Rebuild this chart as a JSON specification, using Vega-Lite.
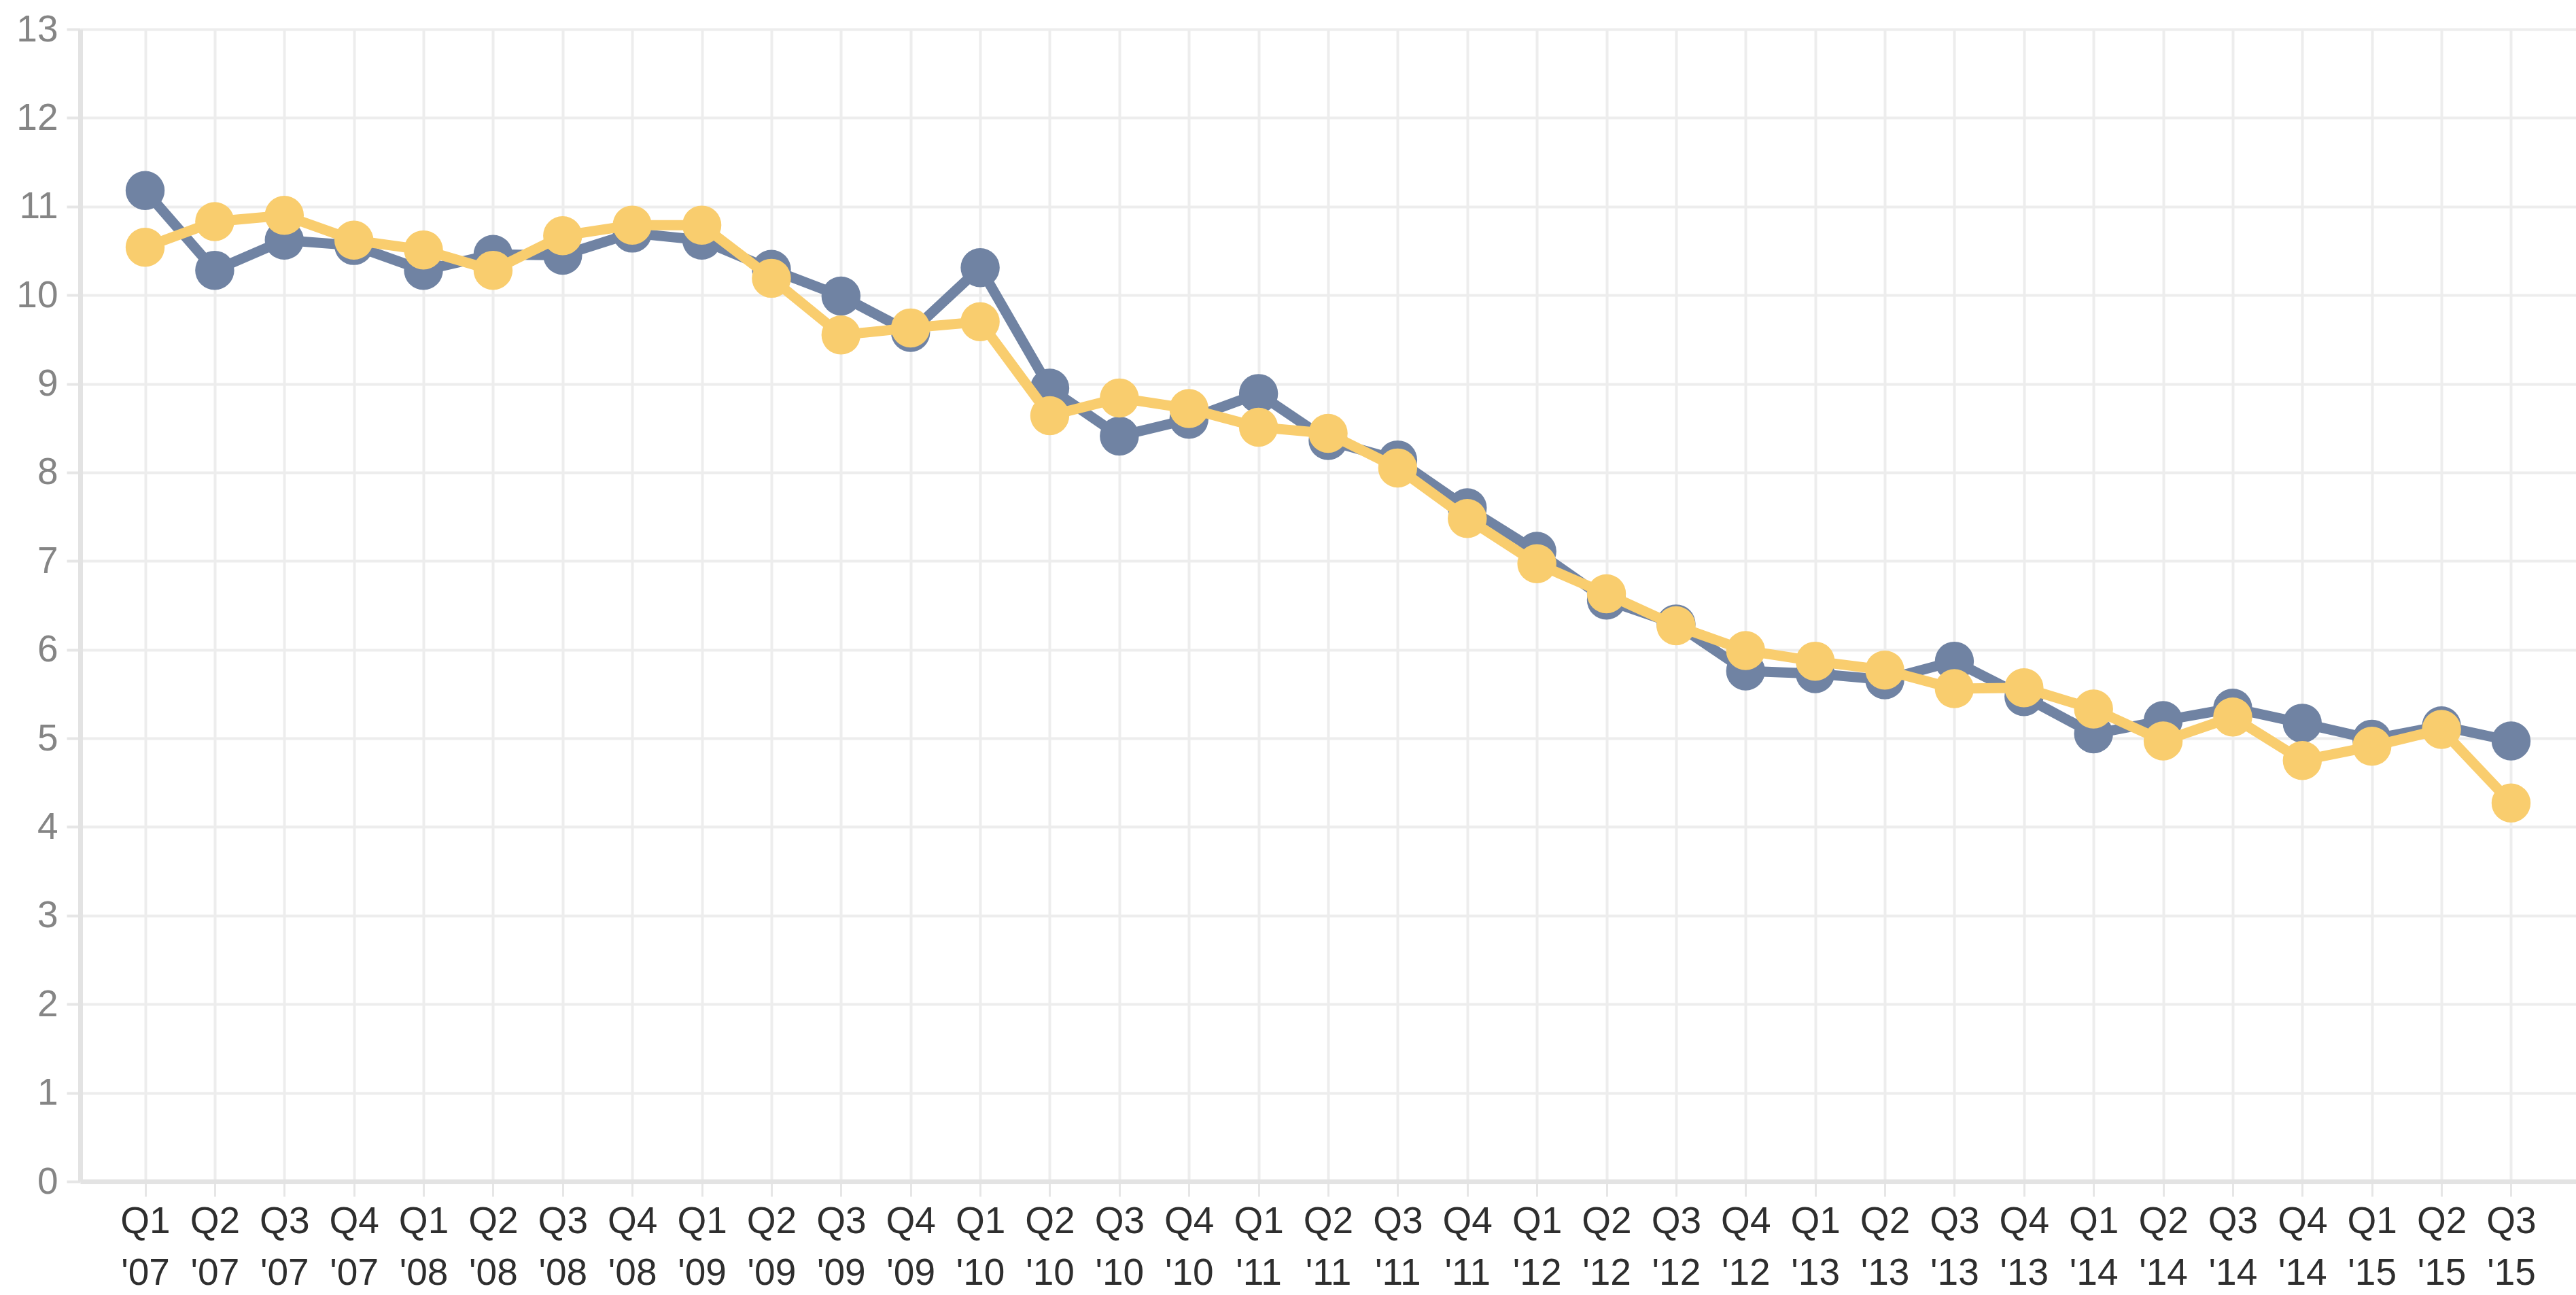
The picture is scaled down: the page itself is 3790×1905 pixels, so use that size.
{
  "$schema": "https://vega.github.io/schema/vega-lite/v6.json",
  "autosize": {"type": "none"},
  "padding": {"left": 118, "top": 43, "right": 0, "bottom": 167},
  "width": 3672,
  "height": 1695,
  "background": "#ffffff",
  "config": {
    "view": {"stroke": null},
    "font": "Liberation Sans"
  },
  "data": {
    "values": [
      {"q": "Q1 '07", "s": "blue", "v": 11.18},
      {"q": "Q2 '07", "s": "blue", "v": 10.28},
      {"q": "Q3 '07", "s": "blue", "v": 10.62},
      {"q": "Q4 '07", "s": "blue", "v": 10.56},
      {"q": "Q1 '08", "s": "blue", "v": 10.28},
      {"q": "Q2 '08", "s": "blue", "v": 10.46},
      {"q": "Q3 '08", "s": "blue", "v": 10.45},
      {"q": "Q4 '08", "s": "blue", "v": 10.70},
      {"q": "Q1 '09", "s": "blue", "v": 10.62},
      {"q": "Q2 '09", "s": "blue", "v": 10.29},
      {"q": "Q3 '09", "s": "blue", "v": 9.99},
      {"q": "Q4 '09", "s": "blue", "v": 9.58},
      {"q": "Q1 '10", "s": "blue", "v": 10.31},
      {"q": "Q2 '10", "s": "blue", "v": 8.95},
      {"q": "Q3 '10", "s": "blue", "v": 8.41},
      {"q": "Q4 '10", "s": "blue", "v": 8.60},
      {"q": "Q1 '11", "s": "blue", "v": 8.89},
      {"q": "Q2 '11", "s": "blue", "v": 8.36},
      {"q": "Q3 '11", "s": "blue", "v": 8.14},
      {"q": "Q4 '11", "s": "blue", "v": 7.60},
      {"q": "Q1 '12", "s": "blue", "v": 7.11},
      {"q": "Q2 '12", "s": "blue", "v": 6.56},
      {"q": "Q3 '12", "s": "blue", "v": 6.29},
      {"q": "Q4 '12", "s": "blue", "v": 5.76},
      {"q": "Q1 '13", "s": "blue", "v": 5.73},
      {"q": "Q2 '13", "s": "blue", "v": 5.66},
      {"q": "Q3 '13", "s": "blue", "v": 5.87},
      {"q": "Q4 '13", "s": "blue", "v": 5.47},
      {"q": "Q1 '14", "s": "blue", "v": 5.05},
      {"q": "Q2 '14", "s": "blue", "v": 5.20},
      {"q": "Q3 '14", "s": "blue", "v": 5.34},
      {"q": "Q4 '14", "s": "blue", "v": 5.17},
      {"q": "Q1 '15", "s": "blue", "v": 4.99},
      {"q": "Q2 '15", "s": "blue", "v": 5.14},
      {"q": "Q3 '15", "s": "blue", "v": 4.97},
      {"q": "Q1 '07", "s": "yellow", "v": 10.54},
      {"q": "Q2 '07", "s": "yellow", "v": 10.83},
      {"q": "Q3 '07", "s": "yellow", "v": 10.90},
      {"q": "Q4 '07", "s": "yellow", "v": 10.62},
      {"q": "Q1 '08", "s": "yellow", "v": 10.51},
      {"q": "Q2 '08", "s": "yellow", "v": 10.28},
      {"q": "Q3 '08", "s": "yellow", "v": 10.67},
      {"q": "Q4 '08", "s": "yellow", "v": 10.79},
      {"q": "Q1 '09", "s": "yellow", "v": 10.79},
      {"q": "Q2 '09", "s": "yellow", "v": 10.19},
      {"q": "Q3 '09", "s": "yellow", "v": 9.55},
      {"q": "Q4 '09", "s": "yellow", "v": 9.63},
      {"q": "Q1 '10", "s": "yellow", "v": 9.70},
      {"q": "Q2 '10", "s": "yellow", "v": 8.64},
      {"q": "Q3 '10", "s": "yellow", "v": 8.84},
      {"q": "Q4 '10", "s": "yellow", "v": 8.72},
      {"q": "Q1 '11", "s": "yellow", "v": 8.51},
      {"q": "Q2 '11", "s": "yellow", "v": 8.44},
      {"q": "Q3 '11", "s": "yellow", "v": 8.05},
      {"q": "Q4 '11", "s": "yellow", "v": 7.48},
      {"q": "Q1 '12", "s": "yellow", "v": 6.97},
      {"q": "Q2 '12", "s": "yellow", "v": 6.63},
      {"q": "Q3 '12", "s": "yellow", "v": 6.27},
      {"q": "Q4 '12", "s": "yellow", "v": 5.99},
      {"q": "Q1 '13", "s": "yellow", "v": 5.87},
      {"q": "Q2 '13", "s": "yellow", "v": 5.77},
      {"q": "Q3 '13", "s": "yellow", "v": 5.56},
      {"q": "Q4 '13", "s": "yellow", "v": 5.57},
      {"q": "Q1 '14", "s": "yellow", "v": 5.33},
      {"q": "Q2 '14", "s": "yellow", "v": 4.97},
      {"q": "Q3 '14", "s": "yellow", "v": 5.24},
      {"q": "Q4 '14", "s": "yellow", "v": 4.75},
      {"q": "Q1 '15", "s": "yellow", "v": 4.91},
      {"q": "Q2 '15", "s": "yellow", "v": 5.10},
      {"q": "Q3 '15", "s": "yellow", "v": 4.27}
    ]
  },
  "encoding": {
    "x": {
      "field": "q",
      "type": "nominal",
      "sort": null,
      "scale": {"type": "point", "padding": 0.933},
      "axis": {
        "title": null,
        "labelAngle": 0,
        "labelExpr": "split(datum.label, ' ')",
        "labelFontSize": 55,
        "labelColor": "#2e2e2e",
        "labelLineHeight": 76,
        "labelPadding": 10,
        "labelOverlap": false,
        "labelFlush": false,
        "tickSize": 22,
        "tickWidth": 3,
        "tickColor": "#e6e6e6",
        "domainColor": "#e3e3e3",
        "domainWidth": 7,
        "grid": true,
        "gridColor": "#ededed",
        "gridWidth": 4
      }
    },
    "y": {
      "field": "v",
      "type": "quantitative",
      "scale": {"domain": [0, 13], "nice": false},
      "axis": {
        "title": null,
        "values": [0, 1, 2, 3, 4, 5, 6, 7, 8, 9, 10, 11, 12, 13],
        "format": "d",
        "labelFontSize": 55,
        "labelColor": "#858585",
        "labelPadding": 13,
        "tickSize": 20,
        "tickWidth": 4,
        "tickColor": "#e6e6e6",
        "domainColor": "#e3e3e3",
        "domainWidth": 7,
        "grid": true,
        "gridColor": "#ededed",
        "gridWidth": 4
      }
    }
  },
  "layer": [
    {
      "transform": [{"filter": "datum.s === 'blue'"}],
      "mark": {"type": "line", "color": "#7083a3", "strokeWidth": 15},
      "encoding": {}
    },
    {
      "transform": [{"filter": "datum.s === 'blue'"}],
      "mark": {"type": "point", "filled": true, "color": "#7083a3", "size": 3300, "opacity": 1},
      "encoding": {}
    },
    {
      "transform": [{"filter": "datum.s === 'yellow'"}],
      "mark": {"type": "line", "color": "#f9cd6e", "strokeWidth": 15},
      "encoding": {}
    },
    {
      "transform": [{"filter": "datum.s === 'yellow'"}],
      "mark": {"type": "point", "filled": true, "color": "#f9cd6e", "size": 3300, "opacity": 1},
      "encoding": {}
    }
  ]
}
